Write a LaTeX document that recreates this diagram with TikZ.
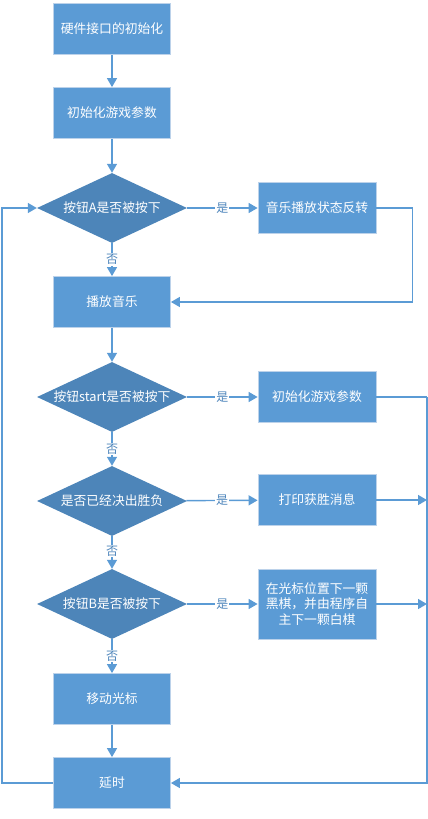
\documentclass[tikz,border=0pt]{standalone}
\usepackage{fontspec}
\setmainfont{Noto Sans CJK SC}
\usetikzlibrary{arrows.meta,shapes.geometric}

\definecolor{boxblue}{HTML}{5B9BD5}
\definecolor{diablue}{HTML}{4D85B9}
\definecolor{rimblue}{HTML}{BCD2EA}
\definecolor{lineblue}{HTML}{5B9BD5}
\definecolor{labblue}{HTML}{4F86BC}

\begin{document}
\begin{tikzpicture}[
    x=1pt,
    y=-1pt,
    line join=miter,
    font=\fontsize{12.8}{15.5}\selectfont,
    proc/.style={
        rectangle,
        draw=rimblue,
        line width=0.8pt,
        fill=boxblue,
        text=white,
        minimum width=117pt,
        minimum height=51pt,
        inner sep=2pt,
        align=center
    },
    decide/.style={
        diamond,
        fill=diablue,
        text=white,
        aspect=2.14,
        minimum width=150pt,
        minimum height=70pt,
        inner sep=0pt
    },
    flow/.style={
        draw=lineblue,
        line width=1.4pt,
        -{Triangle[length=9pt,width=10pt]}
    },
    wire/.style={
        draw=lineblue,
        line width=1.4pt
    },
    answer/.style={
        fill=white,
        text=labblue,
        inner sep=1pt,
        font=\fontsize{12}{14}\selectfont
    }
]

\useasboundingbox (0,0) rectangle (428,819);

% =================================================
% 主流程
% =================================================

\node[proc] (hw)    at (112,29)  {硬件接口的初始化};
\node[proc] (init)  at (112,113) {初始化游戏参数};
\node[decide] (keyA) at (112,208) {按钮A是否被按下};
\node[proc] (play)  at (112,302) {播放音乐};
\node[decide] (keyS) at (112,397) {按钮start是否被按下};
\node[decide] (win)  at (112,501) {是否已经决出胜负};
\node[decide] (keyB) at (112,604) {按钮B是否被按下};
\node[proc] (move)  at (112,699) {移动光标};
\node[proc] (delay) at (112,783) {延时};

% =================================================
% 右侧分支
% =================================================

\node[proc, minimum width=118pt] (toggle) at (317,208) {音乐播放状态反转};
\node[proc, minimum width=118pt] (reset)  at (317,397) {初始化游戏参数};
\node[proc, minimum width=118pt] (winmsg) at (317,500) {打印获胜消息};
\node[proc, minimum width=118pt, minimum height=70pt] (place) at (317,604)
    {在光标位置下一颗\\黑棋，并由程序自\\主下一颗白棋};

% 汇流线的拐点
\coordinate (bus)  at (427,397);
\coordinate (loop) at (2,783);

% =================================================
% 竖向连线
% =================================================

\draw[flow] (hw)   -- (init);
\draw[flow] (init) -- (keyA);
\draw[flow] (keyA) -- node[answer] {否} (play);
\draw[flow] (play) -- (keyS);
\draw[flow] (keyS) -- node[answer] {否} (win);
\draw[flow] (win)  -- node[answer, pos=0.45] {否} (keyB);
\draw[flow] (keyB) -- node[answer] {否} (move);
\draw[flow] (move) -- (delay);

% =================================================
% “是”分支
% =================================================

\draw[flow] (keyA) -- node[answer] {是} (toggle);
\draw[flow] (keyS) -- node[answer] {是} (reset);
\draw[flow] (win)  -- node[answer] {是} (winmsg);
\draw[flow] (keyB) -- node[answer] {是} (place);

% 音乐状态反转后回到播放音乐
\draw[flow] (toggle.east) -- ++(36,0) |- (play.east);

% 右侧汇流到延时
\draw[wire] (reset.east) -- (bus);
\draw[flow] (bus) |- (delay.east);
\draw[flow] (winmsg.east) -- (winmsg.east -| bus);
\draw[flow] (place.east)  -- (place.east -| bus);

% 延时后回到按钮A的判断
\draw[flow] (delay.west) -- (loop) |- (keyA.west);

\end{tikzpicture}
\end{document}
